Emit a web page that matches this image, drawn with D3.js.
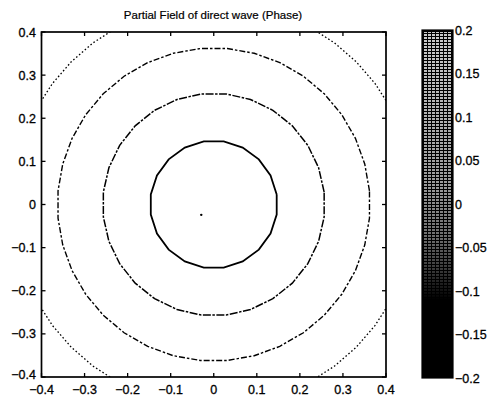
<!DOCTYPE html>
<html><head><meta charset="utf-8">
<script src="https://cdn.jsdelivr.net/npm/d3@7"></script>
<style>
html,body{margin:0;padding:0;background:#fff;}
svg{display:block;}
text{font-family:"Liberation Sans",Arial,sans-serif;fill:#000;}
</style></head>
<body>
<script>
// ---- data ----
const title = "Partial Field of direct wave (Phase)";
const xTicks = [-0.4,-0.3,-0.2,-0.1,0,0.1,0.2,0.3,0.4];
const yTicks = [-0.4,-0.3,-0.2,-0.1,0,0.1,0.2,0.3,0.4];
const cbTicks = [-0.2,-0.15,-0.1,-0.05,0,0.05,0.1,0.15,0.2];
const contourRadii = [0.148, 0.258, 0.363, 0.468];   // contour levels (distance from source)
const contourSides = [20, 28, 36, 44];
const contourStyle = ["solid","dashdot1","dashdot2","dotted"];
const sourcePoint = [-0.029, -0.024];
const cbRange = [-0.2, 0.2];

const W = 492, H = 396;
const svg = d3.select("body").append("svg").attr("width",W).attr("height",H);

const x = d3.scaleLinear().domain([-0.4,0.4]).range([41.5,386]);
const y = d3.scaleLinear().domain([-0.4,0.4]).range([377,32]);
const cb = d3.scaleLinear().domain(cbRange).range([378,30]);

svg.append("clipPath").attr("id","pc").append("rect")
  .attr("x",x(-0.4)).attr("y",y(0.4)).attr("width",x(0.4)-x(-0.4)).attr("height",y(-0.4)-y(0.4));

const g = svg.append("g").attr("clip-path","url(#pc)");
const styles = {
  solid:{w:1.8,d:null},
  dashdot1:{w:1.5,d:"8,1.5,2.5,1.5"},
  dashdot2:{w:1.4,d:"6,2,2.5,2"},
  dotted:{w:1.3,d:"1.6,2.2"}
};
contourRadii.forEach((r,i)=>{
  const n = contourSides[i];
  const pts = d3.range(n+1).map(k=>{
    const a = k/n*2*Math.PI + Math.PI/n;
    return [r*Math.cos(a), r*Math.sin(a)];
  });
  const st = styles[contourStyle[i]];
  g.append("path")
    .attr("d", d3.line().x(d=>x(d[0])).y(d=>y(d[1])).curve(d3.curveLinear)(pts))
    .attr("fill","none").attr("stroke","#000").attr("stroke-width",st.w)
    .attr("stroke-dasharray",st.d);
});
g.append("circle").attr("cx",x(sourcePoint[0])).attr("cy",y(sourcePoint[1])).attr("r",1.2).attr("fill","#000");

const ax = svg.append("g");
ax.append("rect").attr("x",x(-0.4)).attr("y",y(0.4)).attr("width",x(0.4)-x(-0.4)).attr("height",y(-0.4)-y(0.4))
  .attr("fill","none").attr("stroke","#000").attr("stroke-width",1.7);

const tl = 4;
xTicks.forEach(t=>{
  ax.append("line").attr("x1",x(t)).attr("x2",x(t)).attr("y1",y(-0.4)).attr("y2",y(-0.4)-tl).attr("stroke","#000").attr("stroke-width",1.3);
  ax.append("line").attr("x1",x(t)).attr("x2",x(t)).attr("y1",y(0.4)).attr("y2",y(0.4)+tl).attr("stroke","#000").attr("stroke-width",1.3);
  ax.append("text").attr("x",x(t)).attr("y",394).attr("text-anchor","middle")
    .attr("font-size",12.5).attr("stroke","#000").attr("stroke-width",0.3).text(d3.format("")(t));
});
yTicks.forEach(t=>{
  ax.append("line").attr("y1",y(t)).attr("y2",y(t)).attr("x1",x(-0.4)).attr("x2",x(-0.4)+tl).attr("stroke","#000").attr("stroke-width",1.3);
  ax.append("line").attr("y1",y(t)).attr("y2",y(t)).attr("x1",x(0.4)).attr("x2",x(0.4)-tl).attr("stroke","#000").attr("stroke-width",1.3);
  ax.append("text").attr("x",36).attr("y",y(t)+ (t===-0.4 ? -3 : 0)).attr("dy","0.36em").attr("text-anchor","end")
    .attr("font-size",12.5).attr("stroke","#000").attr("stroke-width",0.3).text(d3.format("")(t));
});

svg.append("text").attr("x",213).attr("y",19).attr("text-anchor","middle").attr("font-size",11.5)
  .attr("stroke","#000").attr("stroke-width",0.2).text(title);

// colorbar
const cbx = 422, cbw = 31;
const defs = svg.append("defs");
const pat = defs.append("pattern").attr("id","ht").attr("patternUnits","userSpaceOnUse")
  .attr("width",4).attr("height",3).attr("x",0).attr("y",0);
pat.append("rect").attr("x",0).attr("y",1).attr("width",3).attr("height",2).attr("fill","#fff");
const grad = defs.append("linearGradient").attr("id","mg").attr("x1",0).attr("x2",0).attr("y1",1).attr("y2",0);
[[-0.2,0],[-0.11,0.0],[-0.08,0.2],[-0.04,0.42],[0.02,0.6],[0.12,0.72],[0.2,0.8]].forEach(([v,o])=>{
  grad.append("stop").attr("offset",(v-cbRange[0])/(cbRange[1]-cbRange[0])).attr("stop-color","#fff").attr("stop-opacity",o);
});
const mask = defs.append("mask").attr("id","mk");
mask.append("rect").attr("x",cbx).attr("y",cb(0.2)).attr("width",cbw).attr("height",cb(-0.2)-cb(0.2)).attr("fill","url(#mg)");

svg.append("rect").attr("x",cbx).attr("y",cb(0.2)).attr("width",cbw).attr("height",cb(-0.2)-cb(0.2)).attr("fill","#000");
svg.append("rect").attr("x",cbx+2).attr("y",cb(0.2)+2).attr("width",cbw-4).attr("height",cb(-0.2)-cb(0.2)-4)
  .attr("fill","url(#ht)").attr("mask","url(#mk)");
svg.append("rect").attr("x",cbx).attr("y",cb(0.2)).attr("width",cbw).attr("height",cb(-0.2)-cb(0.2))
  .attr("fill","none").attr("stroke","#000").attr("stroke-width",1.2);
cbTicks.forEach(t=>{
  svg.append("text").attr("x",cbx+cbw+2).attr("y",cb(t)).attr("dy","0.36em").attr("font-size",12.5)
    .attr("stroke","#000").attr("stroke-width",0.3).text(d3.format("")(t));
});
</script>
</body></html>
